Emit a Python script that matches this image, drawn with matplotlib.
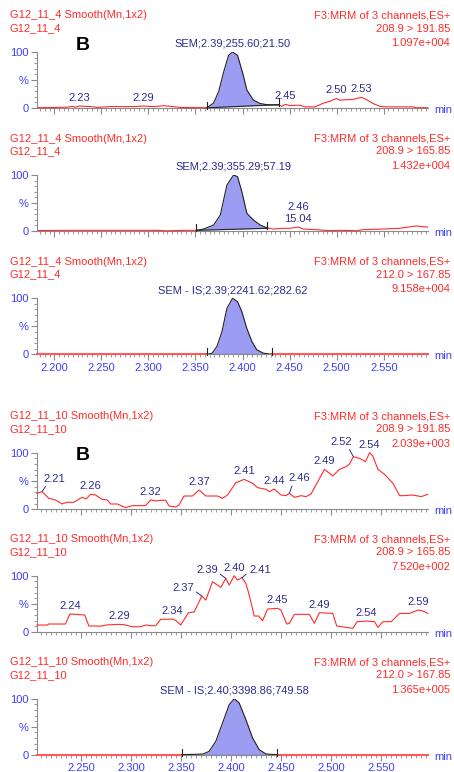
import numpy as np
import matplotlib.pyplot as plt
from matplotlib.ticker import MultipleLocator, FixedLocator, FormatStrFormatter

plt.rcParams["font.family"] = ["Liberation Sans", "DejaVu Sans"]

# ── Data ──────────────────────────────────────────────────────────────────────
# retention time (min) and relative intensity (%)

header_left_1 = ["G12_11_4 Smooth(Mn,1x2)"] * 3 + ["G12_11_10 Smooth(Mn,1x2)"] * 3
header_left_2 = ["G12_11_4"] * 3 + ["G12_11_10"] * 3
header_right_1 = ["F3:MRM of 3 channels,ES+"] * 6
transitions = ["208.9 > 191.85", "208.9 > 165.85", "212.0 > 167.85",
               "208.9 > 191.85", "208.9 > 165.85", "212.0 > 167.85"]
max_counts = ["1.097e+004", "1.432e+004", "9.158e+004",
              "2.039e+003", "7.520e+002", "1.365e+005"]

top_xlim = (2.1817, 2.597)
bottom_xlim = (2.2055, 2.5967)

p1_time = [2.1827, 2.1965, 2.2141, 2.2194, 2.2229, 2.2265, 2.2388, 2.2459, 2.2600, 2.2847,
           2.2945, 2.3058, 2.3164, 2.3235, 2.3340, 2.3623, 2.3693, 2.3746, 2.3799, 2.3852,
           2.3894, 2.3947, 2.4004, 2.4046, 2.4116, 2.4187, 2.4257, 2.4320, 2.4388, 2.4416,
           2.4451, 2.4504, 2.4610, 2.4663, 2.4769, 2.4857, 2.4928, 2.4998, 2.5034, 2.5122,
           2.5175, 2.5266, 2.5316, 2.5386, 2.5457, 2.5527, 2.5668, 2.5810, 2.5845, 2.5965]
p1_pct = [0.5, 0.8, 1.5, 3.0, 1.5, 3.5, 2.5, 1.0, 2.5, 2.5,
          3.5, 2.5, 4.0, 3.0, 1.0, 0.5, 9, 29, 64, 94,
          100, 94, 61, 32, 14, 8, 6, 5.5, 5.5, 3,
          6.5, 4.5, 5, 2, 2, 8.5, 12, 17, 14, 15,
          15.5, 19, 15, 8, 3, 2, 2, 2, 0.5, 0.5]
p1_peak_t = [2.2265, 2.2945, 2.4451, 2.4998, 2.5266]
p1_peak_y = [3.5, 3.5, 6.5, 17, 19]
p1_integ = [(2.3623, 0.3), (2.4388, 6.0)]
p1_sem = (2.3894, "SEM;2.39;255.60;21.50")

p2_time = [2.1827, 2.2141, 2.2847, 2.3094, 2.3199, 2.3376, 2.3510, 2.3587, 2.3693, 2.3764,
           2.3834, 2.3905, 2.3947, 2.3993, 2.4046, 2.4116, 2.4187, 2.4257, 2.4328, 2.4434,
           2.4504, 2.4593, 2.4646, 2.4787, 2.4928, 2.5034, 2.5210, 2.5280, 2.5492, 2.5668,
           2.5845, 2.5915, 2.5965]
p2_pct = [0.8, 1.2, 1.2, 1.2, 0.3, 1.2, 1.2, 3.5, 10.7, 28.6,
          82, 100, 97, 70, 31.5, 19.6, 10.7, 6, 3.5, 4.8,
          4.8, 7, 3.5, 2.4, 0.5, 1.2, 0.5, 2.4, 3.5, 4.8,
          9, 7.7, 7]
p2_peak_t = [2.4593]
p2_peak_y = [7]
p2_peak_area = ["15.04"]
p2_integ = [(2.3510, 1.2), (2.4257, 4.8)]
p2_sem = (2.3905, "SEM;2.39;355.29;57.19")

p3_time = [2.1817, 2.3623, 2.3676, 2.3728, 2.3781, 2.3834, 2.3894, 2.3947, 2.3993, 2.4046,
           2.4099, 2.4152, 2.4222, 2.4310, 2.5970]
p3_pct = [0, 0, 1.8, 14, 40, 82, 100, 94, 76, 46, 23, 8, 2, 0, 0]
p3_integ = [(2.3623, 0), (2.4310, 0)]
p3_sem = (2.3894, "SEM - IS;2.39;2241.62;282.62")

p4_time = [2.2055, 2.2105, 2.2172, 2.2239, 2.2306, 2.2356, 2.2423, 2.2507, 2.2547, 2.2590,
           2.2640, 2.2707, 2.2757, 2.2791, 2.2858, 2.2941, 2.3008, 2.3142, 2.3192, 2.3242,
           2.3292, 2.3343, 2.3376, 2.3443, 2.3476, 2.3526, 2.3610, 2.3677, 2.3744, 2.3861,
           2.3911, 2.3961, 2.4045, 2.4128, 2.4212, 2.4262, 2.4346, 2.4379, 2.4429, 2.4496,
           2.4546, 2.4580, 2.4630, 2.4697, 2.4747, 2.4797, 2.4864, 2.4931, 2.5014, 2.5081,
           2.5148, 2.5181, 2.5221, 2.5282, 2.5342, 2.5382, 2.5415, 2.5466, 2.5532, 2.5616,
           2.5683, 2.5733, 2.5800, 2.5850, 2.5900, 2.5964]
p4_pct = [28.2, 31.2, 19.4, 16.5, 9.4, 12.4, 12.4, 21.2, 18.2, 26.5,
          25.3, 17.6, 16.5, 9.4, 9.4, 2.9, 6.5, 6.5, 16.5, 14.7,
          15.9, 15.9, 5.9, 4.1, 7.6, 23.5, 23.5, 34.1, 23.5, 23.5,
          19.4, 25.3, 47.1, 52.9, 45.9, 38.2, 35.3, 31.2, 35.9, 25.3,
          24.1, 28.2, 21.2, 24.1, 22.4, 27.1, 48.8, 70.6, 58.8, 70.6,
          75.3, 80, 92.9, 90, 84.1, 100, 94.1, 70.6, 61.8, 45.9,
          24.1, 24.1, 25.3, 24.1, 22.4, 26.5]
p4_peak_t = [2.2105, 2.2590, 2.3192, 2.3677, 2.4128, 2.4429, 2.4580, 2.4931, 2.5221, 2.5382]
p4_peak_y = [31.2, 26.5, 16.5, 34.1, 52.9, 35.9, 28.2, 70.6, 92.9, 100]

p5_time = [2.2055, 2.2156, 2.2172, 2.2340, 2.2383, 2.2440, 2.2533, 2.2574, 2.2707, 2.2741,
           2.2874, 2.2925, 2.3008, 2.3092, 2.3142, 2.3202, 2.3242, 2.3292, 2.3409, 2.3443,
           2.3493, 2.3570, 2.3627, 2.3704, 2.3744, 2.3811, 2.3894, 2.3944, 2.3978, 2.4028,
           2.4061, 2.4105, 2.4145, 2.4178, 2.4229, 2.4272, 2.4312, 2.4362, 2.4462, 2.4496,
           2.4553, 2.4580, 2.4630, 2.4780, 2.4830, 2.4880, 2.5014, 2.5054, 2.5148, 2.5215,
           2.5258, 2.5352, 2.5432, 2.5466, 2.5516, 2.5599, 2.5683, 2.5783, 2.5867, 2.5917,
           2.5964]
p5_pct = [11.9, 11.9, 13.7, 13.7, 31.5, 31, 29.8, 10.1, 10.1, 11.9,
          13.1, 12.5, 8.9, 8.9, 11.9, 10.7, 10.7, 22, 22.6, 20.2,
          11.9, 33.9, 35.1, 63.7, 56.5, 89.3, 79.2, 95.2, 83.3, 100,
          92.3, 96.4, 86.3, 65.5, 28, 28, 19.6, 40.5, 41.7, 38.7,
          13.7, 14.9, 31, 31, 14.9, 33.9, 32.7, 10.1, 7.7, 6,
          17.9, 19, 17.9, 7.7, 17.9, 17.9, 32.7, 32.7, 38.7, 36.9,
          32.7]
p5_peak_t = [2.2383, 2.2874, 2.3409, 2.3704, 2.3944, 2.4028, 2.4105, 2.4462, 2.4880, 2.5352, 2.5867]
p5_peak_y = [31.5, 13.1, 22.6, 63.7, 95.2, 100, 96.4, 41.7, 33.9, 19, 38.7]

p6_time = [2.2055, 2.3503, 2.3717, 2.3777, 2.3844, 2.3911, 2.3978, 2.4028, 2.4078, 2.4145,
           2.4212, 2.4279, 2.4346, 2.4456, 2.5967]
p6_pct = [0, 0, 1.2, 6, 24, 56.5, 89.3, 100, 92.3, 62.5, 29.8, 8.9, 1.2, 0, 0]
p6_integ = [(2.3503, 0), (2.4456, 0)]
p6_sem = (2.4028, "SEM - IS;2.40;3398.86;749.58")

# ── Style ─────────────────────────────────────────────────────────────────────
W, H = 454, 772
RED = "#ff2b2b"
BLUE = "#3d3dff"
NAVY = "#2c2c90"
FILL = "#9c9cf2"
GREY = "#8a8a8a"
DARK = "#222222"
FS = 8

fig = plt.figure(figsize=(W / 100, H / 100), dpi=100)

# y pixel of 100 % and 0 % for each panel
panel_rows = [(52, 108), (175, 231), (298.3, 354.3),
              (452.7, 509.3), (575.7, 631.7), (698.7, 754.7)]


def make_axes(i, xlim, show_labels):
    y100, y0 = panel_rows[i]
    ax = fig.add_axes([37 / W, 1 - y0 / H, (428 - 37) / W, (y0 - y100) / H])
    ax.set_xlim(*xlim)
    ax.set_ylim(0, 100)
    ax.patch.set_visible(False)
    ax.spines[["top", "right"]].set_visible(False)
    ax.spines["left"].set_color(GREY)
    ax.spines["bottom"].set_color(GREY)
    ax.yaxis.set_major_locator(FixedLocator([0, 50, 100]))
    ax.set_yticklabels(["0", "%", "100"])
    ax.yaxis.set_minor_locator(MultipleLocator(10))
    ax.xaxis.set_major_locator(MultipleLocator(0.05))
    ax.xaxis.set_minor_locator(MultipleLocator(0.005))
    ax.xaxis.set_major_formatter(FormatStrFormatter("%.3f"))
    ax.tick_params(which="major", colors=GREY, labelcolor=BLUE, labelsize=FS,
                   length=4, width=0.8, pad=2)
    ax.tick_params(which="minor", colors=GREY, length=2, width=0.6)
    ax.tick_params(axis="x", labelbottom=show_labels)
    ax.annotate("min", xy=(1, 0), xycoords="axes fraction", xytext=(6, -2),
                textcoords="offset pixels", ha="left", va="center",
                color=BLUE, fontsize=FS)

    # header block
    fig.text(10 / W, 1 - (y100 - 36.5) / H, header_left_1[i], color=RED,
             fontsize=FS, ha="left", va="center")
    fig.text(10 / W, 1 - (y100 - 24) / H, header_left_2[i], color=RED,
             fontsize=FS, ha="left", va="center")
    fig.text(450 / W, 1 - (y100 - 36.5) / H, header_right_1[i], color=RED,
             fontsize=FS, ha="right", va="center")
    fig.text(450 / W, 1 - (y100 - 23.5) / H, transitions[i], color=RED,
             fontsize=FS, ha="right", va="center")
    fig.text(450 / W, 1 - (y100 - 9) / H, max_counts[i], color=RED,
             fontsize=FS, ha="right", va="center")
    return ax


def draw_trace(ax, t, y, lw=0.8, color=RED, integ=None):
    t = np.array(t, dtype=float)
    y = np.array(y, dtype=float)
    if integ is not None:
        # red only outside the integrated window; the peak gets a dark outline
        (ta, _), (tb, _) = integ
        y = np.where((t > ta) & (t < tb), np.nan, y)
    ax.plot(t, y, color=color, linewidth=lw, zorder=3, clip_on=False)


def draw_integration(ax, t, y, integ, sem):
    t = np.array(t)
    y = np.array(y)
    (ta, ya), (tb, yb) = integ
    base = np.interp(t, [ta, tb], [ya, yb])
    inside = (t >= ta) & (t <= tb)
    ax.fill_between(t, y, base, where=inside & (y >= base), interpolate=True,
                    color=FILL, linewidth=0, zorder=2)
    ax.plot(t[inside], y[inside], color=DARK, linewidth=0.8, zorder=4)
    ax.plot([ta, tb], [ya, yb], color=DARK, linewidth=0.8, zorder=4)
    for tm, ym in integ:
        ax.plot([tm, tm], [ym - 2, ym + 11], color=DARK, linewidth=0.8,
                zorder=4, clip_on=False)
    ax.annotate(sem[1], xy=(sem[0], 100), xytext=(0, 3), textcoords="offset pixels",
                ha="center", va="bottom", color=NAVY, fontsize=FS)


def label_peaks(ax, peak_t, peak_y, texts=None, leaders=None):
    leaders = leaders or {}
    for k, (pt, py) in enumerate(zip(peak_t, peak_y)):
        txt = f"{pt:.2f}" if texts is None else texts[k]
        if k in leaders:
            dx, dy, rel = leaders[k]
            ax.annotate(txt, xy=(pt, py), xytext=(dx, dy), textcoords="offset pixels",
                        ha="center", va="bottom", color=NAVY, fontsize=FS,
                        annotation_clip=False,
                        arrowprops=dict(arrowstyle="-", color=NAVY, lw=0.7,
                                        shrinkA=0, shrinkB=0, relpos=rel))
        else:
            ax.annotate(txt, xy=(pt, py), xytext=(0, 3), textcoords="offset pixels",
                        ha="center", va="bottom", color=NAVY, fontsize=FS,
                        annotation_clip=False)


# ── Panel 1 ───────────────────────────────────────────────────────────────────
ax1 = make_axes(0, top_xlim, False)
draw_trace(ax1, p1_time, p1_pct, integ=p1_integ)
draw_integration(ax1, p1_time, p1_pct, p1_integ, p1_sem)
label_peaks(ax1, p1_peak_t, p1_peak_y)

# ── Panel 2 ───────────────────────────────────────────────────────────────────
ax2 = make_axes(1, top_xlim, False)
draw_trace(ax2, p2_time, p2_pct, integ=p2_integ)
draw_integration(ax2, p2_time, p2_pct, p2_integ, p2_sem)
label_peaks(ax2, p2_peak_t, p2_peak_y,
            texts=[f"{t:.2f}\n{a}" for t, a in zip(p2_peak_t, p2_peak_area)])

# ── Panel 3 ───────────────────────────────────────────────────────────────────
ax3 = make_axes(2, top_xlim, True)
draw_trace(ax3, p3_time, p3_pct, lw=1.5, color="#ff5a5a", integ=p3_integ)
draw_integration(ax3, p3_time, p3_pct, p3_integ, p3_sem)

# ── Panel 4 ───────────────────────────────────────────────────────────────────
ax4 = make_axes(3, bottom_xlim, False)
draw_trace(ax4, p4_time, p4_pct)
label_peaks(ax4, p4_peak_t, p4_peak_y,
            leaders={0: (12, 8, (0.2, 0)), 6: (10, 10, (0.2, 0)), 8: (-12, 10, (0.8, 0))})

# ── Panel 5 ───────────────────────────────────────────────────────────────────
ax5 = make_axes(4, bottom_xlim, False)
draw_trace(ax5, p5_time, p5_pct)
label_peaks(ax5, p5_peak_t, p5_peak_y,
            leaders={3: (-19, 3, (1, 0.3)), 4: (-19, 3, (1, 0.3)), 6: (18, 3, (0, 0.3))})

# ── Panel 6 ───────────────────────────────────────────────────────────────────
ax6 = make_axes(5, bottom_xlim, True)
draw_trace(ax6, p6_time, p6_pct, lw=1.5, color="#ff5a5a", integ=p6_integ)
draw_integration(ax6, p6_time, p6_pct, p6_integ, p6_sem)

# panel tags
fig.text(76 / W, 1 - 50 / H, "B", fontsize=14, fontweight="bold", color="black",
         ha="left", va="baseline")
fig.text(76 / W, 1 - 460 / H, "B", fontsize=14, fontweight="bold", color="black",
         ha="left", va="baseline")

fig.savefig("out.png", dpi=100)
